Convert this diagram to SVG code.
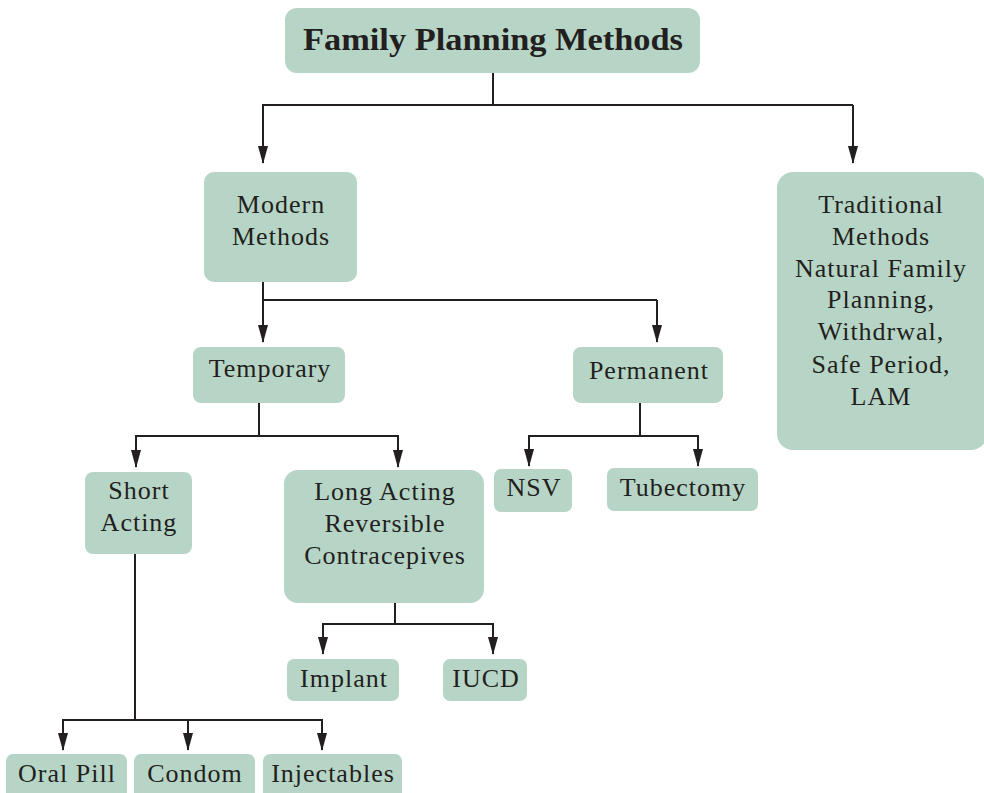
<svg xmlns="http://www.w3.org/2000/svg" width="984" height="793" viewBox="0 0 984 793">
<defs>
<style>
.box{fill:#b7d5c6;}
.t{font-family:"Liberation Serif","Times New Roman",serif;font-size:26px;letter-spacing:1px;fill:#231f20;text-anchor:middle;}
.title{font-family:"Liberation Serif","Times New Roman",serif;font-size:31px;font-weight:bold;fill:#231f20;text-anchor:middle;}
.ln{fill:none;stroke:#231f20;stroke-width:2;}
.ar{fill:none;stroke:#231f20;stroke-width:2;marker-end:url(#arrow);}
</style>
<marker id="arrow" viewBox="0 -6 18 12" refX="17" refY="0" markerWidth="18" markerHeight="12" markerUnits="userSpaceOnUse" orient="auto">
<path d="M0,-5 L18,0 L0,5 z" fill="#231f20"/>
</marker>
</defs>
<rect width="984" height="793" fill="#ffffff"/>

<g id="connectors">
<path class="ln" d="M493,73 V105 M262,105 H853"/>
<path class="ar" d="M263,105 V163"/>
<path class="ar" d="M853,105 V163"/>
<path class="ln" d="M263,282 V300 H657"/>
<path class="ar" d="M263,300 V342"/>
<path class="ar" d="M657,300 V342"/>
<path class="ln" d="M259,403 V436 M135,436 H399"/>
<path class="ar" d="M136,436 V467"/>
<path class="ar" d="M398,436 V467"/>
<path class="ln" d="M640,403 V436 M528,436 H699"/>
<path class="ar" d="M529,436 V466"/>
<path class="ar" d="M698,436 V466"/>
<path class="ln" d="M395,603 V624 M322,624 H494"/>
<path class="ar" d="M323,624 V654"/>
<path class="ar" d="M493,624 V654"/>
<path class="ln" d="M135,554 V720 M62,720 H323"/>
<path class="ar" d="M63,720 V750"/>
<path class="ar" d="M188,720 V750"/>
<path class="ar" d="M322,720 V750"/>
</g>

<g id="title">
<rect class="box" x="285" y="8" width="415" height="65" rx="12"/>
<text class="title" x="493" y="50" textLength="380" lengthAdjust="spacingAndGlyphs">Family Planning Methods</text>
</g>

<g id="modern">
<rect class="box" x="204" y="172" width="153" height="110" rx="10"/>
<text class="t" x="281" y="213">Modern</text>
<text class="t" x="281" y="245">Methods</text>
</g>

<g id="traditional">
<rect class="box" x="777" y="172" width="210" height="278" rx="16"/>
<text class="t" x="881" y="213">Traditional</text>
<text class="t" x="881" y="245">Methods</text>
<text class="t" x="881" y="277">Natural Family</text>
<text class="t" x="881" y="308">Planning,</text>
<text class="t" x="881" y="340">Withdrwal,</text>
<text class="t" x="881" y="373">Safe Period,</text>
<text class="t" x="881" y="405">LAM</text>
</g>

<g id="temporary">
<rect class="box" x="193" y="347" width="152" height="56" rx="8"/>
<text class="t" x="270" y="377">Temporary</text>
</g>

<g id="permanent">
<rect class="box" x="573" y="347" width="150" height="56" rx="8"/>
<text class="t" x="649" y="379">Permanent</text>
</g>

<g id="short">
<rect class="box" x="85" y="472" width="107" height="82" rx="8"/>
<text class="t" x="139" y="499">Short</text>
<text class="t" x="139" y="531">Acting</text>
</g>

<g id="larc">
<rect class="box" x="284" y="470" width="200" height="133" rx="14"/>
<text class="t" x="385" y="500">Long Acting</text>
<text class="t" x="385" y="532">Reversible</text>
<text class="t" x="385" y="564">Contracepives</text>
</g>

<g id="nsv">
<rect class="box" x="494" y="469" width="78" height="43" rx="7"/>
<text class="t" x="534" y="496">NSV</text>
</g>

<g id="tubectomy">
<rect class="box" x="607" y="468" width="151" height="43" rx="7"/>
<text class="t" x="683" y="496">Tubectomy</text>
</g>

<g id="implant">
<rect class="box" x="287" y="659" width="112" height="42" rx="7"/>
<text class="t" x="344" y="687">Implant</text>
</g>

<g id="iucd">
<rect class="box" x="443" y="659" width="84" height="42" rx="7"/>
<text class="t" x="486" y="687">IUCD</text>
</g>

<g id="oralpill">
<rect class="box" x="6" y="754" width="121" height="50" rx="7"/>
<text class="t" x="67" y="782">Oral Pill</text>
</g>

<g id="condom">
<rect class="box" x="134" y="754" width="121" height="50" rx="7"/>
<text class="t" x="195" y="782">Condom</text>
</g>

<g id="injectables">
<rect class="box" x="263" y="754" width="139" height="50" rx="7"/>
<text class="t" x="333" y="782">Injectables</text>
</g>
</svg>
